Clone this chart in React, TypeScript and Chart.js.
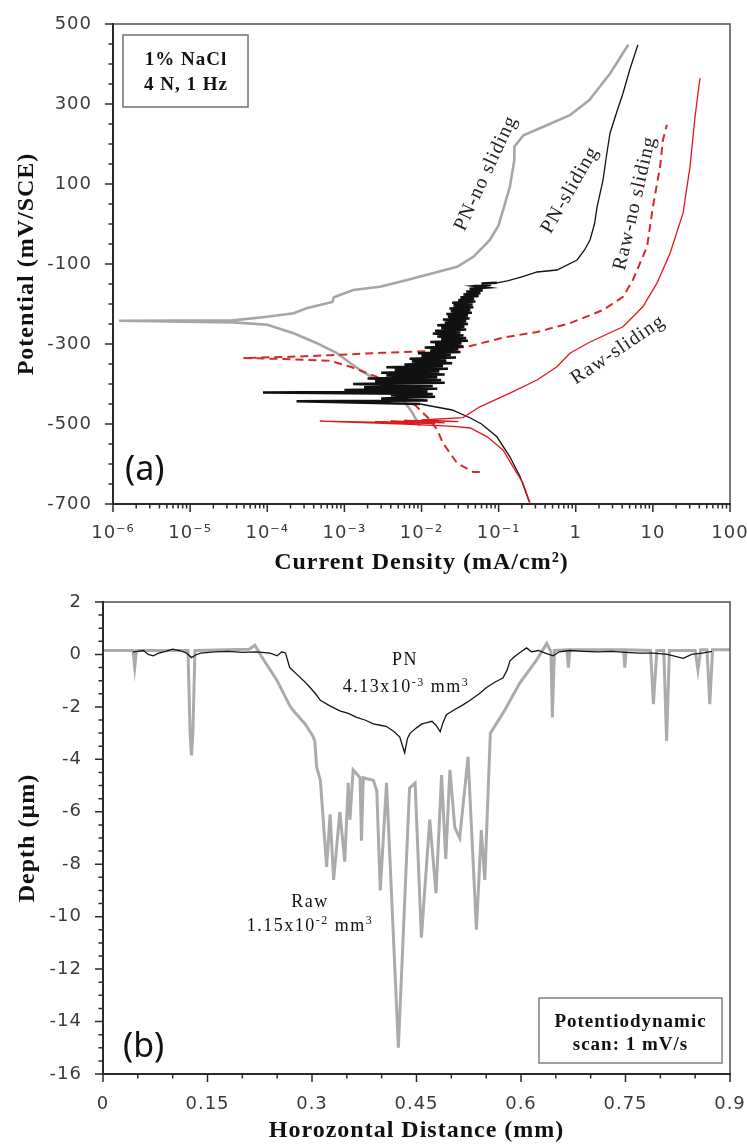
import React, { useEffect, useRef } from 'react';
import { Chart, registerables } from 'chart.js';

Chart.register(...registerables);

// ---------------- Panel (a): polarization curves ----------------
const currentTickValues = [1e-6, 1e-5, 1e-4, 1e-3, 1e-2, 1e-1, 1, 10, 100];
const currentTickLabels = ['10⁻⁶', '10⁻⁵', '10⁻⁴', '10⁻³', '10⁻²', '10⁻¹', '1', '10', '100'];
const potentialTickLabels = [-700, -500, -300, -100, 100, 300, 500];

// PN - no sliding (grey)
const pnNoSlidingCurrent = [0.0095, 0.0075, 0.0053, 0.00265, 0.00175, 0.0012, 0.0008, 0.00044, 0.00022, 0.0001, 0.000036, 0.0000012, 0.000036, 0.0001, 0.00022, 0.00033, 0.0006, 0.0007, 0.00073, 0.0013, 0.0029, 0.0065, 0.029, 0.047, 0.077, 0.1, 0.14, 0.16, 0.16, 0.21, 0.38, 0.84, 1.5, 2.8, 4.8];
const pnNoSlidingPotential = [-505, -470, -430, -390, -370, -348, -323, -298, -273, -252, -246, -242, -241, -232, -223, -210, -198, -195, -183, -165, -157, -140, -107, -82, -40, -3, 93, 160, 193, 222, 243, 272, 310, 377, 448];

// PN - sliding (black, noisy)
const pnSlidingCurrent = [0.25, 0.19, 0.14, 0.095, 0.06, 0.043, 0.025, 0.0096,
  0.00024, 0.012, 0.003, 0.015, 0.004, 0.014, 0.000088, 0.012, 0.001, 0.016, 0.0018, 0.014, 0.0013, 0.02, 0.0025, 0.018, 0.002, 0.016, 0.0035, 0.02, 0.003, 0.017, 0.0045, 0.022, 0.0035, 0.019, 0.006, 0.025, 0.0075, 0.021, 0.007, 0.028, 0.01, 0.024, 0.009, 0.032, 0.013, 0.03, 0.011, 0.035, 0.015, 0.033, 0.013, 0.04, 0.018, 0.038,
  0.016, 0.035, 0.014, 0.032, 0.015, 0.038, 0.018, 0.036, 0.016, 0.04, 0.02, 0.038, 0.019, 0.042, 0.022, 0.04, 0.021, 0.045, 0.024, 0.043, 0.023, 0.047, 0.026, 0.046, 0.025, 0.05, 0.03, 0.048, 0.032, 0.055, 0.035, 0.058, 0.038, 0.062, 0.042, 0.07, 0.05, 0.08, 0.06, 0.095,
  0.13, 0.2, 0.315, 0.57, 1.04, 1.3, 1.53, 1.75, 1.89, 2.26, 2.5, 2.78, 3.4, 4.1, 5.0, 6.4];
const pnSlidingPotential = [-695, -632, -582, -532, -500, -485, -465, -450,
  -443, -441, -436, -432, -428, -425, -421, -419, -415, -412, -408, -405, -400, -397, -393, -390, -386, -383, -379, -376, -372, -369, -365, -362, -358, -355, -351, -348, -344, -341, -337, -334, -330, -327, -323, -320, -316, -313, -309, -306, -302, -299, -295, -292, -288, -285,
  -281, -278, -274, -271, -267, -264, -260, -257, -253, -250, -246, -243, -239, -236, -232, -229, -225, -222, -218, -215, -211, -208, -204, -201, -197, -194, -190, -187, -183, -180, -176, -173, -169, -166, -162, -159, -155, -152, -149, -147,
  -142, -132, -120, -115, -90, -65, -40, 0, 43, 110, 170, 227, 280, 327, 385, 448];

// Raw - no sliding (red dashed)
const rawNoSlidingCurrent = [0.057, 0.047, 0.029, 0.019, 0.016, 0.013, 0.0087, 0.0053, 0.00265, 0.0012, 0.00065, 0.0002, 0.000049, 0.0002, 0.00065, 0.0032, 0.016, 0.043, 0.114, 0.315, 0.84, 2.26, 4.1, 5.5, 8.4, 10, 12.4, 13.5, 15.2];
const rawNoSlidingPotential = [-620, -620, -598, -548, -515, -490, -457, -423, -382, -357, -342, -338, -335, -332, -328, -322, -317, -305, -284, -270, -248, -215, -182, -140, -57, 43, 143, 210, 248];

// Raw - sliding (red solid)
const rawSlidingCurrent = [0.255, 0.207, 0.154, 0.114, 0.071, 0.043, 0.026, 0.012, 0.006, 0.00048, 0.008, 0.0025, 0.015, 0.003, 0.011, 0.004, 0.02, 0.006, 0.03, 0.01, 0.0345, 0.057, 0.14, 0.315, 0.57, 0.84, 1.53, 4.1, 7.4, 11.3, 16.7, 24.6, 30.3, 35.2, 40.8];
const rawSlidingPotential = [-697, -648, -607, -565, -532, -510, -506, -503, -500, -493, -497, -495, -499, -494, -498, -492, -497, -491, -494, -490, -484, -457, -423, -390, -357, -323, -295, -257, -207, -148, -73, 27, 143, 268, 365];

const curveLabelText = ['PN-no sliding', 'PN-sliding', 'Raw-no sliding', 'Raw-sliding'];
const curveLabelCurrent = [0.0686, 0.843, 5.86, 3.53];
const curveLabelPotential = [127, 85, 52, -315];
const curveLabelAngle = [-65, -60, -77, -34];

// ---------------- Panel (b): wear track profiles ----------------
const distanceTickValues = [0, 0.15, 0.3, 0.45, 0.6, 0.75, 0.9];
const distanceTickLabels = ['0', '0.15', '0.3', '0.45', '0.6', '0.75', '0.9'];
const depthTickLabels = [2, 0, -2, -4, -6, -8, -10, -12, -14, -16];

const rawDistance = [0, 0.043, 0.0455, 0.048, 0.122, 0.125, 0.127, 0.129, 0.132, 0.21, 0.218, 0.228, 0.25, 0.268, 0.272, 0.29, 0.301, 0.304, 0.3067, 0.312, 0.321, 0.326, 0.331, 0.34, 0.347, 0.352, 0.3545, 0.359, 0.369, 0.371, 0.3736, 0.388, 0.393, 0.398, 0.407, 0.424, 0.44, 0.448, 0.457, 0.469, 0.478, 0.486, 0.492, 0.498, 0.505, 0.512, 0.524, 0.536, 0.543, 0.548, 0.556, 0.575, 0.598, 0.622, 0.637, 0.643, 0.645, 0.648, 0.666, 0.668, 0.67, 0.747, 0.749, 0.751, 0.786, 0.79, 0.795, 0.805, 0.809, 0.813, 0.85, 0.854, 0.858, 0.867, 0.871, 0.875, 0.9];
const rawDepth = [0.15, 0.15, -0.5, 0.15, 0.15, -3.0, -3.85, -3.0, 0.15, 0.2, 0.35, -0.1, -1.0, -1.95, -2.1, -2.65, -3.1, -3.3, -4.3, -4.8, -8.1, -6.1, -8.6, -6.0, -7.9, -4.9, -6.3, -4.4, -4.7, -7.1, -4.7, -4.8, -5.2, -9.0, -4.9, -15.0, -5.1, -4.9, -10.8, -6.3, -9.1, -4.6, -7.8, -4.4, -6.6, -7.0, -3.9, -10.5, -6.7, -8.6, -3.0, -2.2, -1.1, -0.23, 0.42, 0.1, -2.4, 0.15, 0.18, -0.5, 0.18, 0.18, -0.5, 0.18, 0.15, -1.9, 0.15, 0.15, -3.3, 0.15, 0.15, -0.6, 0.18, 0.18, -1.9, 0.18, 0.18];

const pnDistance = [0.043, 0.05, 0.058, 0.065, 0.072, 0.08, 0.09, 0.1, 0.11, 0.12, 0.127, 0.133, 0.14, 0.16, 0.18, 0.2, 0.22, 0.24, 0.25, 0.257, 0.262, 0.268, 0.278, 0.288, 0.297, 0.305, 0.312, 0.325, 0.34, 0.352, 0.364, 0.376, 0.388, 0.398, 0.407, 0.418, 0.426, 0.433, 0.437, 0.441, 0.45, 0.458, 0.465, 0.472, 0.478, 0.484, 0.488, 0.493, 0.505, 0.515, 0.527, 0.54, 0.551, 0.563, 0.574, 0.58, 0.584, 0.59, 0.6, 0.608, 0.615, 0.625, 0.635, 0.646, 0.655, 0.67, 0.69, 0.71, 0.73, 0.75, 0.77, 0.79, 0.81, 0.833, 0.845, 0.86, 0.874];
const pnDepth = [0.1, 0.12, 0.15, 0.0, -0.05, 0.05, 0.12, 0.2, 0.15, 0.05, -0.12, -0.02, 0.05, 0.1, 0.12, 0.08, 0.1, 0.05, -0.05, 0.1, 0.05, -0.5, -0.75, -1.0, -1.25, -1.5, -1.75, -1.95, -2.15, -2.25, -2.4, -2.5, -2.65, -2.7, -2.75, -2.95, -3.15, -3.75, -3.2, -3.0, -2.8, -2.65, -2.6, -2.55, -2.7, -2.95, -2.6, -2.3, -2.1, -1.95, -1.75, -1.5, -1.25, -1.05, -0.9, -0.6, -0.25, -0.1, 0.1, 0.25, 0.1, 0.15, 0.05, -0.05, 0.1, 0.15, 0.12, 0.1, 0.12, 0.08, 0.05, 0.05, 0.0, -0.15, 0.0, 0.05, 0.12];

// ---------------- helpers ----------------
const SERIF = '"Liberation Serif", "Times New Roman", serif';
const TICKFONT = '"DejaVu Sans", Verdana, sans-serif';

const toPoints = (xs: number[], ys: number[]) => xs.map((x, k) => ({ x, y: ys[k] }));
const near = (a: number, b: number) => Math.abs(a - b) < 1e-9 * Math.max(1, Math.abs(b)) + 1e-12;

const spacingPlugin = {
  id: 'spacing',
  beforeDraw(chart: any) {
    (chart.ctx as any).letterSpacing = '1px';
  },
};

function tickMarksPlugin(id: string, xMajor: (v: number) => boolean, yMajor: (v: number) => boolean) {
  return {
    id,
    afterDatasetsDraw(chart: any) {
      const { ctx, chartArea: a } = chart;
      const xs = chart.scales.x;
      const ys = chart.scales.y;
      ctx.save();
      ctx.lineCap = 'butt';
      ctx.strokeStyle = '#505050';
      ctx.lineWidth = 1.5;
      ctx.beginPath();
      ctx.moveTo(a.left, a.top);
      ctx.lineTo(a.right, a.top);
      ctx.lineTo(a.right, a.bottom);
      ctx.stroke();
      ctx.strokeStyle = '#2a2a2a';
      ctx.lineWidth = 2;
      ctx.beginPath();
      ctx.moveTo(a.left, a.top - 1);
      ctx.lineTo(a.left, a.bottom);
      ctx.lineTo(a.right + 1, a.bottom);
      ctx.stroke();
      ctx.lineWidth = 1.5;
      ctx.beginPath();
      xs.ticks.forEach((t: any) => {
        const p = xs.getPixelForValue(t.value);
        const len = xMajor(t.value) ? 8 : 4.5;
        ctx.moveTo(p, a.bottom);
        ctx.lineTo(p, a.bottom + len);
      });
      ys.ticks.forEach((t: any) => {
        const p = ys.getPixelForValue(t.value);
        const len = yMajor(t.value) ? 8 : 4.5;
        ctx.moveTo(a.left, p);
        ctx.lineTo(a.left - len, p);
      });
      ctx.stroke();
      ctx.restore();
    },
  };
}

function richText(ctx: CanvasRenderingContext2D, segs: { t: string; sup?: boolean }[], cx: number, baseline: number, size: number, weight: string) {
  const base = `${weight} ${size}px ${SERIF}`;
  const sup = `${weight} ${Math.round(size * 0.66)}px ${SERIF}`;
  let total = 0;
  segs.forEach((s) => {
    ctx.font = s.sup ? sup : base;
    total += ctx.measureText(s.t).width;
  });
  let x = cx - total / 2;
  ctx.textAlign = 'left';
  ctx.textBaseline = 'alphabetic';
  segs.forEach((s) => {
    ctx.font = s.sup ? sup : base;
    ctx.fillText(s.t, x, s.sup ? baseline - size * 0.38 : baseline);
    x += ctx.measureText(s.t).width;
  });
}

const topNotes = {
  id: 'topNotes',
  afterDraw(chart: any) {
    const { ctx, chartArea: a } = chart;
    const x = chart.scales.x;
    const y = chart.scales.y;
    ctx.save();
    ctx.letterSpacing = '1px';
    ctx.strokeStyle = '#707070';
    ctx.lineWidth = 1.5;
    ctx.strokeRect(a.left + 10, a.top + 11, 125, 72);
    ctx.fillStyle = '#111';
    ctx.textAlign = 'center';
    ctx.textBaseline = 'alphabetic';
    ctx.font = `bold 19px ${SERIF}`;
    ctx.fillText('1% NaCl', a.left + 73, a.top + 41);
    ctx.fillText('4 N, 1 Hz', a.left + 73, a.top + 66);
    ctx.letterSpacing = '0px';
    ctx.textAlign = 'left';
    ctx.font = '34px "Noto Sans", "Open Sans", sans-serif';
    ctx.fillText('(a)', a.left + 12, a.bottom - 24);
    ctx.letterSpacing = '1px';
    ctx.fillStyle = '#222';
    ctx.font = `20px ${SERIF}`;
    ctx.textAlign = 'center';
    ctx.textBaseline = 'middle';
    curveLabelText.forEach((txt, k) => {
      const px = x.getPixelForValue(curveLabelCurrent[k]);
      const py = y.getPixelForValue(curveLabelPotential[k]);
      ctx.save();
      ctx.translate(px, py);
      ctx.rotate((curveLabelAngle[k] * Math.PI) / 180);
      ctx.fillText(txt, 0, 0);
      ctx.restore();
    });
    ctx.restore();
  },
};

const bottomNotes = {
  id: 'bottomNotes',
  afterDraw(chart: any) {
    const { ctx, chartArea: a } = chart;
    const x = chart.scales.x;
    const y = chart.scales.y;
    ctx.save();
    ctx.letterSpacing = '1.5px';
    ctx.fillStyle = '#111';
    richText(ctx, [{ t: 'PN' }], x.getPixelForValue(0.4335), y.getPixelForValue(-0.42), 18, 'normal');
    richText(ctx, [{ t: '4.13x10' }, { t: '-3', sup: true }, { t: ' mm' }, { t: '3', sup: true }], x.getPixelForValue(0.435), y.getPixelForValue(-1.45), 18, 'normal');
    richText(ctx, [{ t: 'Raw' }], x.getPixelForValue(0.297), y.getPixelForValue(-9.65), 18, 'normal');
    richText(ctx, [{ t: '1.15x10' }, { t: '-2', sup: true }, { t: ' mm' }, { t: '3', sup: true }], x.getPixelForValue(0.297), y.getPixelForValue(-10.53), 18, 'normal');
    ctx.letterSpacing = '1px';
    ctx.strokeStyle = '#808080';
    ctx.lineWidth = 1.5;
    const bw = 183, bh = 65;
    const bx = a.right - 8 - bw, by = a.bottom - 11 - bh;
    ctx.strokeRect(bx, by, bw, bh);
    ctx.fillStyle = '#111';
    ctx.textAlign = 'center';
    ctx.textBaseline = 'alphabetic';
    ctx.font = `bold 19px ${SERIF}`;
    ctx.fillText('Potentiodynamic', bx + bw / 2, by + 29);
    ctx.fillText('scan: 1 mV/s', bx + bw / 2, by + 52);
    ctx.letterSpacing = '0px';
    ctx.textAlign = 'left';
    ctx.font = '34px "Noto Sans", "Open Sans", sans-serif';
    ctx.fillText('(b)', a.left + 20, a.bottom - 17);
    ctx.restore();
  },
};

const titleFont = { family: SERIF, size: 24, weight: 'bold', lineHeight: 1.0 };
const tickFont = { family: TICKFONT, size: 18 };

function topConfig(): any {
  const logMinor: number[] = [];
  for (let e = -6; e <= 1; e++) {
    for (let m = 1; m <= 9; m++) logMinor.push(Number((m * Math.pow(10, e)).toPrecision(6)));
  }
  logMinor.push(100);
  const potTicks: number[] = [];
  for (let v = -700; v <= 500; v += 50) potTicks.push(v);
  const isMajorX = (v: number) => currentTickValues.some((c) => near(v, c));
  const isMajorY = (v: number) => potentialTickLabels.includes(v);
  const noisy = (i: number) => pnSlidingPotential[i] >= -451 && pnSlidingPotential[i] <= -147;
  return {
    type: 'scatter',
    data: {
      datasets: [
        { label: 'Raw-sliding', data: toPoints(rawSlidingCurrent, rawSlidingPotential), showLine: true, borderColor: '#e3161b', borderWidth: 1.3, pointRadius: 0, tension: 0 },
        {
          label: 'PN-sliding', data: toPoints(pnSlidingCurrent, pnSlidingPotential), showLine: true, borderColor: '#111111', borderWidth: 1.3, pointRadius: 0, tension: 0,
          segment: { borderWidth: (c: any) => (noisy(c.p0DataIndex) && noisy(c.p1DataIndex) ? 2.5 : 1.3) },
        },
        { label: 'Raw-no sliding', data: toPoints(rawNoSlidingCurrent, rawNoSlidingPotential), showLine: true, borderColor: '#d42a2a', borderWidth: 2, borderDash: [8, 5], pointRadius: 0, tension: 0 },
        { label: 'PN-no sliding', data: toPoints(pnNoSlidingCurrent, pnNoSlidingPotential), showLine: true, borderColor: '#a6a6a6', borderWidth: 2.6, pointRadius: 0, tension: 0 },
      ],
    },
    options: {
      animation: false,
      responsive: false,
      devicePixelRatio: 1,
      layout: { padding: { left: 0, top: 24, right: 17, bottom: 0 } },
      plugins: { legend: { display: false }, tooltip: { enabled: false } },
      scales: {
        x: {
          type: 'logarithmic',
          min: 1e-6,
          max: 100,
          grid: { display: false, drawTicks: false },
          border: { display: false },
          afterBuildTicks: (s: any) => { s.ticks = logMinor.map((v) => ({ value: v, major: isMajorX(v) })); },
          afterFit: (s: any) => { s.height = 80; s.paddingLeft = 0; s.paddingRight = 0; },
          ticks: {
            autoSkip: false,
            maxRotation: 0,
            padding: 19,
            color: '#3a3a3a',
            font: tickFont,
            callback: (v: number) => {
              const k = currentTickValues.findIndex((c) => near(v, c));
              return k >= 0 ? currentTickLabels[k] : '';
            },
          },
          title: { display: true, text: 'Current Density (mA/cm²)', color: '#111', font: titleFont, padding: { top: 0, bottom: 9 } },
        },
        y: {
          type: 'linear',
          min: -700,
          max: 500,
          grid: { display: false, drawTicks: false },
          border: { display: false },
          afterBuildTicks: (s: any) => { s.ticks = potTicks.map((v) => ({ value: v })); },
          afterFit: (s: any) => { s.width = 113; s.paddingTop = 0; s.paddingBottom = 0; },
          ticks: {
            autoSkip: false,
            padding: 21,
            color: '#3a3a3a',
            font: tickFont,
            callback: (v: number) => (isMajorY(v) ? String(v) : ''),
          },
          title: { display: true, text: 'Potential (mV/SCE)', color: '#111', font: titleFont, padding: { top: 15, bottom: 0 } },
        },
      },
    },
    plugins: [spacingPlugin, tickMarksPlugin('frameTop', isMajorX, isMajorY), topNotes],
  };
}

function bottomConfig(): any {
  const xTicks: number[] = [];
  for (let k = 0; k <= 18; k++) xTicks.push(Math.round(k * 50) / 1000);
  const yTicks: number[] = [];
  for (let k = 0; k <= 36; k++) yTicks.push(-16 + k * 0.5);
  const isMajorX = (v: number) => distanceTickValues.some((c) => Math.abs(c - v) < 1e-6);
  const isMajorY = (v: number) => depthTickLabels.includes(v);
  return {
    type: 'scatter',
    data: {
      datasets: [
        { label: 'PN', data: toPoints(pnDistance, pnDepth), showLine: true, borderColor: '#151515', borderWidth: 1.3, pointRadius: 0, tension: 0 },
        { label: 'Raw', data: toPoints(rawDistance, rawDepth), showLine: true, borderColor: '#ababab', borderWidth: 3, pointRadius: 0, tension: 0 },
      ],
    },
    options: {
      animation: false,
      responsive: false,
      devicePixelRatio: 1,
      layout: { padding: { left: 0, top: 18, right: 17, bottom: 0 } },
      plugins: { legend: { display: false }, tooltip: { enabled: false } },
      scales: {
        x: {
          type: 'linear',
          min: 0,
          max: 0.9,
          grid: { display: false, drawTicks: false },
          border: { display: false },
          afterBuildTicks: (s: any) => { s.ticks = xTicks.map((v) => ({ value: v })); },
          afterFit: (s: any) => { s.height = 70; s.paddingLeft = 0; s.paddingRight = 0; },
          ticks: {
            autoSkip: false,
            maxRotation: 0,
            padding: 20,
            color: '#3a3a3a',
            font: tickFont,
            callback: (v: number) => {
              const k = distanceTickValues.findIndex((c) => Math.abs(c - v) < 1e-6);
              return k >= 0 ? distanceTickLabels[k] : '';
            },
          },
          title: { display: true, text: 'Horozontal Distance (mm)', color: '#111', font: titleFont, padding: { top: 0, bottom: 1 } },
        },
        y: {
          type: 'linear',
          min: -16,
          max: 2,
          grid: { display: false, drawTicks: false },
          border: { display: false },
          afterBuildTicks: (s: any) => { s.ticks = yTicks.map((v) => ({ value: v })); },
          afterFit: (s: any) => { s.width = 103; s.paddingTop = 0; s.paddingBottom = 0; },
          ticks: {
            autoSkip: false,
            padding: 21,
            color: '#3a3a3a',
            font: tickFont,
            callback: (v: number) => (isMajorY(v) ? String(v) : ''),
          },
          title: { display: true, text: 'Depth (µm)', color: '#111', font: titleFont, padding: { top: 16, bottom: 0 } },
        },
      },
    },
    plugins: [spacingPlugin, tickMarksPlugin('frameBottom', isMajorX, isMajorY), bottomNotes],
  };
}

export default function App() {
  const topRef = useRef<HTMLCanvasElement>(null);
  const bottomRef = useRef<HTMLCanvasElement>(null);
  useEffect(() => {
    const c1 = new Chart(topRef.current as HTMLCanvasElement, topConfig());
    const c2 = new Chart(bottomRef.current as HTMLCanvasElement, bottomConfig());
    return () => {
      c1.destroy();
      c2.destroy();
    };
  }, []);
  return (
    <div style={{ position: 'absolute', left: 0, top: 0, width: 747, height: 1144, background: '#fff', overflow: 'hidden' }}>
      <canvas ref={topRef} width={747} height={584} style={{ position: 'absolute', left: 0, top: 0, width: 747, height: 584 }} />
      <canvas ref={bottomRef} width={747} height={560} style={{ position: 'absolute', left: 0, top: 584, width: 747, height: 560 }} />
    </div>
  );
}
